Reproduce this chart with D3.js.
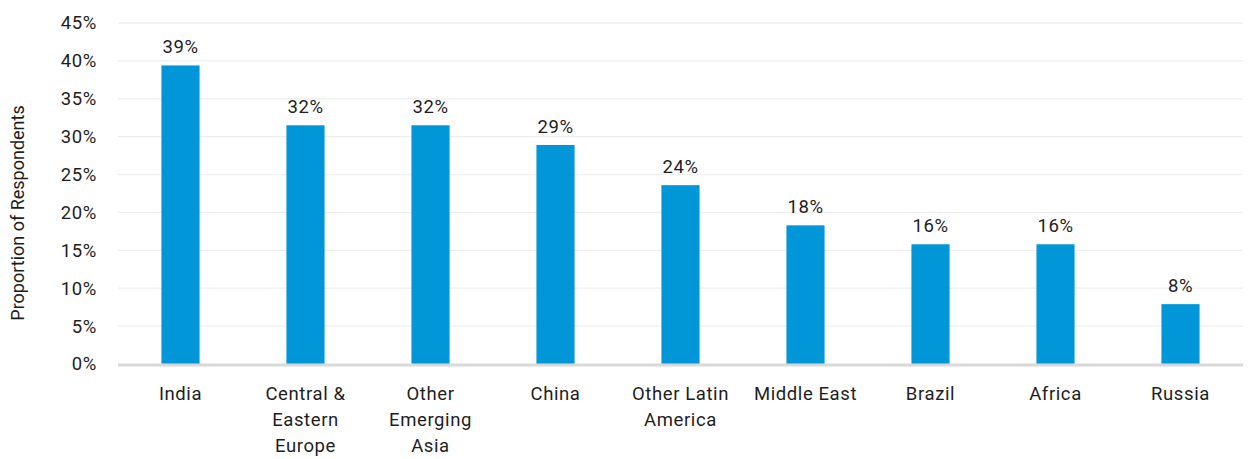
<!DOCTYPE html>
<html>
<head>
<meta charset="utf-8">
<script src="https://cdn.jsdelivr.net/npm/d3@7"></script>
<style>
  html, body { margin: 0; padding: 0; background: #fff; }
  svg { display: block; font-family: Roboto, "DejaVu Sans", sans-serif; }
  svg text { letter-spacing: 0.6px; }
  svg text.y-title { letter-spacing: 0; }
</style>
</head>
<body>
<svg id="chart" width="1250" height="459"></svg>
<script>
// Regions and share of respondents (fractions)
const categories = ["India", "Central & Eastern Europe", "Other Emerging Asia", "China",
  "Other Latin America", "Middle East", "Brazil", "Africa", "Russia"];
const categoryLines = [["India"], ["Central &", "Eastern", "Europe"], ["Other", "Emerging", "Asia"],
  ["China"], ["Other Latin", "America"], ["Middle East"], ["Brazil"], ["Africa"], ["Russia"]];
const values = [0.394, 0.315, 0.315, 0.289, 0.236, 0.183, 0.158, 0.158, 0.079];
const yTicks = [0, 0.05, 0.10, 0.15, 0.20, 0.25, 0.30, 0.35, 0.40, 0.45];
const yTitle = "Proportion of Respondents";

const svg = d3.select("#chart");
const margin = { top: 23, right: 7, bottom: 95, left: 118 };
const W = 1250, H = 459;
const innerW = W - margin.left - margin.right;
const innerH = H - margin.top - margin.bottom;
const fs = 18.5;
const ink = "#1e1e1e";

const g = svg.append("g").attr("transform", `translate(${margin.left},${margin.top})`);

const x = d3.scaleBand().domain(categories).range([0, innerW]).paddingInner(0.695).paddingOuter(0.3475);
const y = d3.scaleLinear().domain([0, 0.45]).range([innerH, 0]);

// gridlines
g.append("g")
  .selectAll("line")
  .data(yTicks.slice(1))
  .join("line")
  .attr("x1", 0).attr("x2", innerW)
  .attr("y1", d => y(d)).attr("y2", d => y(d))
  .attr("stroke", "#efefef").attr("stroke-width", 1.3);

// y axis labels
const yAxis = g.append("g")
  .call(d3.axisLeft(y).tickValues(yTicks).tickFormat(d3.format(".0%")).tickSize(0).tickPadding(21));
yAxis.select(".domain").remove();
yAxis.selectAll("text").attr("font-size", fs).attr("fill", ink)
  .attr("font-family", "Roboto, sans-serif");

// bars
g.append("g")
  .selectAll("rect")
  .data(categories)
  .join("rect")
  .attr("x", d => x(d))
  .attr("width", x.bandwidth())
  .attr("y", (d, i) => y(values[i]))
  .attr("height", (d, i) => innerH - y(values[i]))
  .attr("fill", "#0096d7");

// value labels
g.append("g")
  .selectAll("text")
  .data(categories)
  .join("text")
  .attr("x", d => x(d) + x.bandwidth() / 2)
  .attr("y", (d, i) => y(values[i]) - 12)
  .attr("text-anchor", "middle")
  .attr("font-size", fs)
  .attr("fill", ink)
  .text((d, i) => Math.round(values[i] * 100) + "%");

// baseline
g.append("line")
  .attr("x1", 0).attr("x2", innerW)
  .attr("y1", innerH + 1).attr("y2", innerH + 1)
  .attr("stroke", "#d9d9d9").attr("stroke-width", 3);

// category labels
const xl = g.append("g")
  .selectAll("text")
  .data(categories)
  .join("text")
  .attr("x", d => x(d) + x.bandwidth() / 2)
  .attr("y", innerH + 36)
  .attr("text-anchor", "middle")
  .attr("font-size", fs)
  .attr("fill", ink);
xl.each(function (d, i) {
  d3.select(this).selectAll("tspan")
    .data(categoryLines[i])
    .join("tspan")
    .attr("x", x(d) + x.bandwidth() / 2)
    .attr("dy", (t, j) => j === 0 ? 0 : 26)
    .text(t => t);
});

// y axis title
svg.append("text")
  .attr("class", "y-title")
  .attr("transform", `translate(24,213) rotate(-90)`)
  .attr("text-anchor", "middle")
  .attr("font-size", 18)
  .attr("fill", ink)
  .text(yTitle);
</script>
</body>
</html>
